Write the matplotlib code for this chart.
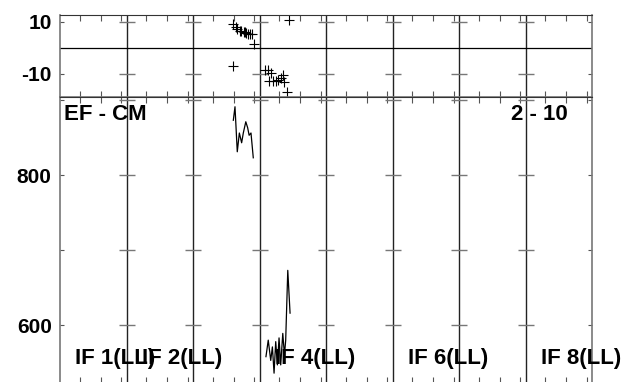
import matplotlib.pyplot as plt
from matplotlib.ticker import FixedLocator, NullFormatter

plt.rcParams['font.family'] = ['Liberation Sans', 'DejaVu Sans']

# channel axis: 8 IFs x 32 channels, global channel = (IF-1)*32 + chan
n_if = 8
n_chan = 32
if_labels = ['IF 1(LL)', 'IF 2(LL)', 'IF 4(LL)', 'IF 6(LL)', 'IF 8(LL)']
if_label_pos = [1, 2, 4, 6, 8]

# phase (deg), IF 3 and IF 4
ph3_x = [83.9, 85.4, 85.9, 86.9, 87.8, 88.8, 89.3, 90.2, 91.2, 92.1, 93.1, 94.0]
ph3_y = [9.2, 8.1, 7.3, 6.5, 6.5, 6.2, 6.2, 5.8, 5.4, 5.4, 5.4, 1.5]
ph4_x = [99.2, 100.5, 101.2, 101.9, 103.1, 104.5, 105.6, 106.8, 107.9, 108.3, 109.9]
ph4_y = [-8.5, -8.5, -12.7, -9.5, -12.7, -12.7, -12.3, -11.5, -10.4, -13.0, -16.8]
ph_out_x = [83.9, 110.8]
ph_out_y = [-6.9, 10.8]

# amplitude, IF 3 and IF 4
amp3_x = [83.9, 84.7, 85.8, 86.8, 87.9, 88.7, 89.9, 90.8, 91.5, 92.4, 93.5]
amp3_y = [873, 891, 831, 856, 843, 856, 871, 863, 853, 856, 823]
amp4_x = [99.6, 100.7, 101.9, 102.7, 103.5, 104.3, 105.1, 105.9, 106.7, 107.7,
          108.5, 109.1, 110.1, 111.2]
amp4_y = [558, 580, 553, 571, 536, 578, 547, 583, 547, 589, 560, 580, 673, 616]

fig = plt.figure(figsize=(6.29, 3.82), dpi=100)
ax1 = fig.add_axes([0.0954, 0.7461, 0.8458, 0.2147])
ax2 = fig.add_axes([0.0954, -0.003, 0.8458, 0.7491])

bounds = [i * n_chan + 0.5 for i in range(1, n_if)]
xticks = [i * n_chan + c for i in range(n_if) for c in (10, 20, 30)]

for ax in (ax1, ax2):
    ax.set_xlim(0.5, n_if * n_chan + 0.5)
    ax.xaxis.set_major_locator(FixedLocator(xticks))
    ax.xaxis.set_major_formatter(NullFormatter())
    ax.tick_params(axis='x', direction='in', top=True, bottom=True,
                   length=4, width=0.8, color='#555')
    ax.tick_params(axis='y', direction='in', left=True, right=True,
                   length=3, width=0.8, color='#555', labelsize=15, pad=6)
    for b in bounds:
        ax.axvline(b, color='#222', lw=1.0)
    for s in ('left', 'right', 'bottom'):
        ax.spines[s].set_color('#777')
        ax.spines[s].set_linewidth(1.2)
    ax.spines['top'].set_color('#333')

# phase panel
ax1.set_ylim(-18.85, 12.7)
ax1.set_yticks([-10, 10])
ax1.set_yticklabels(['-10', '10'], fontweight='bold', fontsize=15)
ax1.axhline(0, color='black', lw=0.9)
for yt in (-10, 10):
    ax1.plot(bounds, [yt] * len(bounds), ls='none', marker='_', ms=12,
             mew=1.0, color='#777')
ax1.plot(ph3_x, ph3_y, ls='none', marker='+', ms=7, mew=0.8, color='black')
ax1.plot(ph4_x, ph4_y, ls='none', marker='+', ms=7, mew=0.8, color='black')
ax1.plot(ph_out_x, ph_out_y, ls='none', marker='+', ms=7, mew=0.8, color='black')

# amplitude panel
ax2.set_ylim(522.7, 904)
ax2.set_yticks([600, 800])
ax2.set_yticklabels(['600', '800'], fontweight='bold', fontsize=15)
ax2.yaxis.set_minor_locator(FixedLocator([700, 900]))
ax2.tick_params(axis='y', which='minor', direction='in', left=True, right=True,
                length=3, width=0.8, color='#555')
for yt in (600, 700, 800, 900):
    ax2.plot(bounds, [yt] * len(bounds), ls='none', marker='_', ms=12,
             mew=1.0, color='#777')
ax2.plot(amp3_x, amp3_y, color='black', lw=0.9)
ax2.plot(amp4_x, amp4_y, color='black', lw=0.9)

ax2.text(0.007, 0.975, 'EF - CM', transform=ax2.transAxes, fontsize=16,
         fontweight='bold', ha='left', va='top')
ax2.text(0.955, 0.975, '2 - 10', transform=ax2.transAxes, fontsize=16,
         fontweight='bold', ha='right', va='top')
for lab, k in zip(if_labels, if_label_pos):
    ax2.text((k - 1) * n_chan + 7.8, 555, lab, fontsize=16,
             fontweight='bold', ha='left', va='center')

fig.savefig('out.png', dpi=100)
